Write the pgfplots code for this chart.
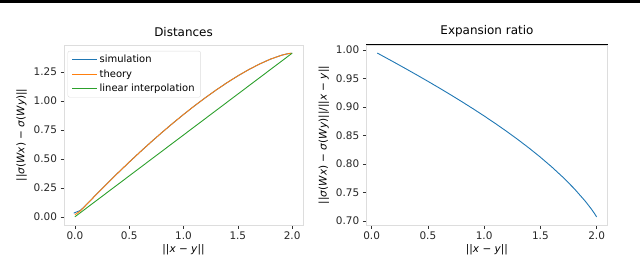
\documentclass[border=0pt]{standalone}
\usepackage{fontspec}
\setmainfont{DejaVu Sans}
\usepackage{pgfplots}
\pgfplotsset{compat=1.18}
\definecolor{mplblue}{HTML}{1F77B4}
\definecolor{mplorange}{HTML}{FF7F0E}
\definecolor{mplgreen}{HTML}{2CA02C}
\definecolor{spine}{HTML}{DDDDDD}
\pgfplotsset{
  mystyle/.style={
    scale only axis,
    height=180bp,
    axis line style={spine, line width=0.8bp},
    tick pos=left,
    tick align=outside,
    major tick length=3.5bp,
    tick style={black!80, line width=0.6bp},
    /pgf/number format/assume math mode=true,
    ticklabel style={font=\fontsize{10.5}{12}\selectfont, text=black!85},
    label style={font=\fontsize{10.5}{12}\selectfont},
    title style={font=\fontsize{12}{14}\selectfont, yshift=-1bp},
    xtick={0,0.5,1,1.5,2},
    xticklabel style={/pgf/number format/.cd, fixed, fixed zerofill, precision=1},
    yticklabel style={/pgf/number format/.cd, fixed, fixed zerofill, precision=2},
    xlabel={||\textit{x} − \textit{y}||},
    xlabel style={yshift=2bp},
  }
}
\begin{document}
\begin{tikzpicture}[x=1bp,y=1bp]
\path[use as bounding box] (0,0) rectangle (640,257);
\fill[black] (0,254) rectangle (640,257);
\begin{axis}[mystyle,
  at={(64bp,32bp)}, anchor=south west,
  width=239bp,
  xmin=-0.1, xmax=2.1,
  ymin=-0.0707, ymax=1.485,
  ytick={0,0.25,0.5,0.75,1.0,1.25},
  title={Distances},
  ylabel={||\textit{σ}(\textit{Wx}) − \textit{σ}(\textit{Wy})||},
  ylabel style={xshift=0bp},
  legend style={at={(0.015,0.967)}, anchor=north west, draw=spine,
    rounded corners=2bp, font=\fontsize{10}{12}\selectfont,
    cells={anchor=west}, row sep=1.5bp, inner xsep=4bp, inner ysep=2bp},
  legend image code/.code={\draw[#1] (0bp,0bp) -- (21bp,0bp); \path (0bp,0bp) -- (25bp,0bp);},
]
\addplot[mplblue, line width=0.9bp] coordinates {
(-0.01,0.032) (0.05,0.055) (0.1,0.0989) (0.2,0.1957) (0.3,0.2903) (0.4,0.3826)
(0.5,0.4726) (0.6,0.5601) (0.7,0.6452) (0.8,0.7277) (0.9,0.8074) (1.0,0.8843)
(1.1,0.9582) (1.2,1.0287) (1.3,1.0958) (1.4,1.1590) (1.5,1.2180) (1.6,1.2721)
(1.7,1.3207) (1.8,1.3626) (1.9,1.3957) (1.95,1.4076) (1.98,1.4125) (2.0,1.4142)};
\addlegendentry{simulation}
\addplot[mplorange, line width=0.9bp] coordinates {
(0.0,0.018) (0.05,0.0497) (0.1,0.0989) (0.2,0.1957) (0.3,0.2903) (0.4,0.3826)
(0.5,0.4726) (0.6,0.5601) (0.7,0.6452) (0.8,0.7277) (0.9,0.8074) (1.0,0.8843)
(1.1,0.9582) (1.2,1.0287) (1.3,1.0958) (1.4,1.1590) (1.5,1.2180) (1.6,1.2721)
(1.7,1.3207) (1.8,1.3626) (1.9,1.3957) (1.95,1.4076) (1.98,1.4125) (2.0,1.4142)};
\addlegendentry{theory}
\addplot[mplgreen, line width=0.9bp] coordinates {(0,0) (2.0,1.4142)};
\addlegendentry{linear interpolation}
\end{axis}
\begin{axis}[mystyle, name=right,
  at={(366.3bp,32bp)}, anchor=south west,
  width=241.3bp,
  xmin=-0.0475, xmax=2.0975,
  ymin=0.693, ymax=1.0088,
  ytick={0.70,0.75,0.80,0.85,0.90,0.95,1.00},
  title={Expansion ratio},
  ylabel={||\textit{σ}(\textit{Wx}) − \textit{σ}(\textit{Wy})||/||\textit{x} − \textit{y}||},
]
\addplot[mplblue, line width=0.9bp] coordinates {
(0.05,0.99468) (0.1,0.98933) (0.2,0.97854) (0.3,0.96757) (0.4,0.95644) (0.5,0.94510)
(0.6,0.93354) (0.7,0.92171) (0.8,0.90960) (0.9,0.89714) (1.0,0.88431) (1.1,0.87104)
(1.2,0.85727) (1.3,0.84290) (1.4,0.82785) (1.5,0.81197) (1.6,0.79507) (1.7,0.77688)
(1.8,0.75697) (1.9,0.73455) (1.95,0.72184) (1.98,0.71340) (2.0,0.70711)};
\end{axis}
\draw[black, line width=1bp] (right.north west) -- (right.north east);
\end{tikzpicture}
\end{document}
